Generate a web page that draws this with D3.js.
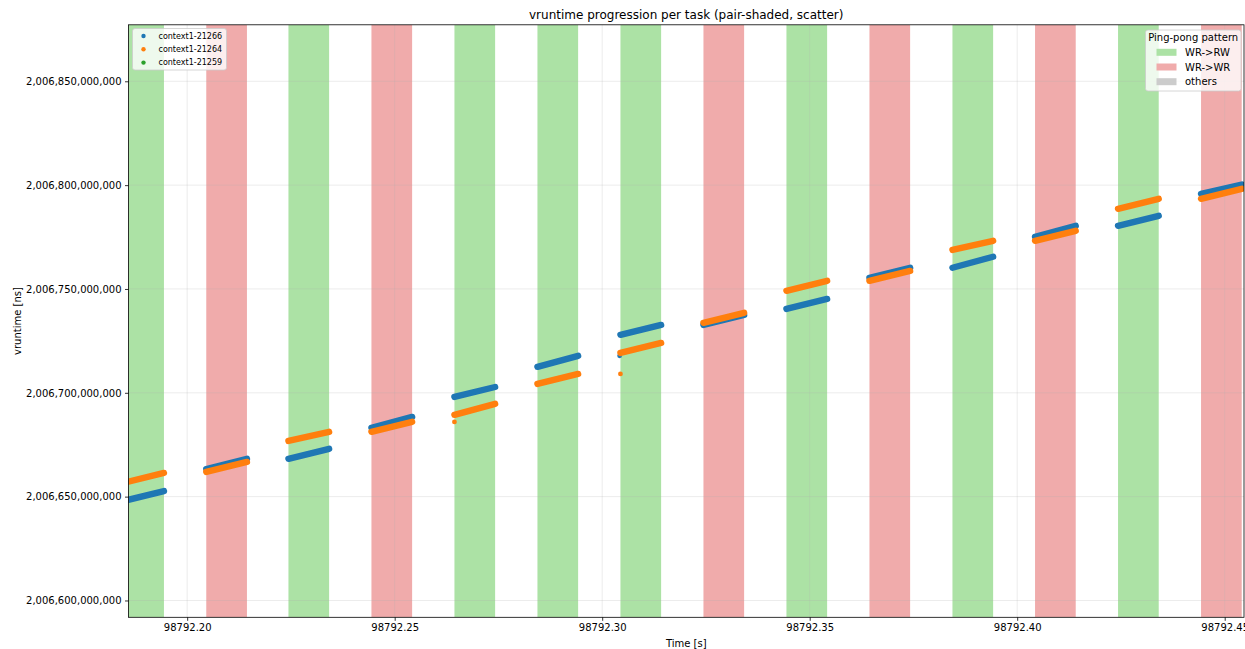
<!DOCTYPE html>
<html>
<head>
<meta charset="utf-8">
<script src="https://cdn.jsdelivr.net/npm/d3@7"></script>
<style>
  html, body { margin: 0; padding: 0; background: #fff; }
  svg { display: block; font-family: "DejaVu Sans", sans-serif; }
</style>
</head>
<body>
<svg id="chart" width="1245" height="649"></svg>
<script>
// Ping-pong windows: start / end time [s] and pattern of each shaded pair window
const bandStart = [98792.1846, 98792.2046, 98792.2244, 98792.2444, 98792.2644, 98792.2844, 98792.3044,
                   98792.3244, 98792.3444, 98792.3644, 98792.3844, 98792.4043, 98792.4243, 98792.4443];
const bandEnd   = [98792.1944, 98792.2144, 98792.2342, 98792.2542, 98792.2742, 98792.2942, 98792.3142,
                   98792.3342, 98792.3542, 98792.3742, 98792.3942, 98792.4141, 98792.4341, 98792.4541];
const bandPattern = ["WR->RW", "WR->WR", "WR->RW", "WR->WR", "WR->RW", "WR->RW", "WR->RW",
                     "WR->WR", "WR->RW", "WR->WR", "WR->RW", "WR->WR", "WR->RW", "WR->WR"];

const patterns = ["WR->RW", "WR->WR", "others"];
const tasks = ["context1-21266", "context1-21264", "context1-21259"];

// vruntime [ns] of each task at the start and end of its run inside each window
const vrStart21266 = [2006647900000, 2006663300000, 2006668200000, 2006683100000, 2006698000000, 2006712500000, 2006727900000,
                      2006732700000, 2006740400000, 2006755300000, 2006760200000, 2006775100000, 2006780400000, 2006795800000];
const vrEnd21266   = [2006652700000, 2006668200000, 2006673000000, 2006688400000, 2006702800000, 2006717800000, 2006732700000,
                      2006737500000, 2006745200000, 2006760200000, 2006765500000, 2006780400000, 2006785200000, 2006800300000];
const vrStart21264 = [2006656600000, 2006661900000, 2006676800000, 2006681200000, 2006689400000, 2006704300000, 2006719200000,
                      2006733700000, 2006749100000, 2006753900000, 2006768800000, 2006773200000, 2006788600000, 2006793400000];
const vrEnd21264   = [2006661400000, 2006666700000, 2006681200000, 2006686000000, 2006694700000, 2006709100000, 2006724000000,
                      2006738500000, 2006753900000, 2006758700000, 2006773200000, 2006778000000, 2006793400000, 2006798200000];
const vrStart21259 = [];
const vrEnd21259   = [];

// single samples taken just before a run starts
const lonePointsTime  = [[98792.3042], [98792.2644, 98792.3044], []];
const lonePointsValue = [[2006717800000], [2006686000000, 2006709100000], []];

const xTicks = [98792.20, 98792.25, 98792.30, 98792.35, 98792.40, 98792.45];
const yTicks = [2006600000000, 2006650000000, 2006700000000, 2006750000000, 2006800000000, 2006850000000];
const xDomain = [98792.18586, 98792.45465];
const yDomain = [2006591900000, 2006877200000];

const taskColors = ["#1f77b4", "#ff7f0e", "#2ca02c"];
const patternColors = {"WR->RW": "#ace2a5", "WR->WR": "#f0abab", "others": "#cccccc"};

const svg = d3.select("#chart");
const margin = {left: 128.5, top: 24.8, right: 1244, bottom: 617.3};
const W = margin.right - margin.left, H = margin.bottom - margin.top;

const x = d3.scaleLinear().domain(xDomain).range([margin.left, margin.right]);
const y = d3.scaleLinear().domain(yDomain).range([margin.bottom, margin.top]);

svg.append("defs").append("clipPath").attr("id", "plot-clip")
  .append("rect").attr("x", margin.left).attr("y", margin.top).attr("width", W).attr("height", H);

const plot = svg.append("g").attr("clip-path", "url(#plot-clip)");

// shaded pair windows
plot.append("g").selectAll("rect").data(bandStart).join("rect")
  .attr("x", (d) => x(d))
  .attr("width", (d, i) => x(bandEnd[i]) - x(d))
  .attr("y", margin.top).attr("height", H)
  .attr("fill", (d, i) => patternColors[bandPattern[i]]);

// grid
const grid = plot.append("g").attr("stroke", "#b0b0b0").attr("stroke-opacity", 0.3).attr("stroke-width", 0.8);
grid.selectAll("line.gx").data(xTicks).join("line").attr("class", "gx")
  .attr("x1", (d) => x(d)).attr("x2", (d) => x(d)).attr("y1", margin.top).attr("y2", margin.bottom);
grid.selectAll("line.gy").data(yTicks).join("line").attr("class", "gy")
  .attr("y1", (d) => y(d)).attr("y2", (d) => y(d)).attr("x1", margin.left).attr("x2", margin.right);

// task runs
const runs = [
  {start: vrStart21266, end: vrEnd21266},
  {start: vrStart21264, end: vrEnd21264},
  {start: vrStart21259, end: vrEnd21259}
];
runs.forEach((r, ti) => {
  const g = plot.append("g").attr("stroke", taskColors[ti]).attr("fill", taskColors[ti]);
  g.selectAll("line").data(r.start).join("line")
    .attr("x1", (d, i) => x(bandStart[i])).attr("x2", (d, i) => x(bandEnd[i]))
    .attr("y1", (d) => y(d)).attr("y2", (d, i) => y(r.end[i]))
    .attr("stroke-width", 6.4).attr("stroke-linecap", "round");
  g.selectAll("circle").data(lonePointsTime[ti]).join("circle")
    .attr("cx", (d) => x(d)).attr("cy", (d, i) => y(lonePointsValue[ti][i]))
    .attr("r", 2.4).attr("stroke", "none");
});

// axes
const xAxis = d3.axisBottom(x).tickValues(xTicks).tickFormat(d3.format(".2f")).tickSize(3.5).tickPadding(3.5);
const yAxis = d3.axisLeft(y).tickValues(yTicks).tickFormat(d3.format(",.0f")).tickSize(3.5).tickPadding(3.5);

const gx = svg.append("g").attr("transform", `translate(0,${margin.bottom})`).call(xAxis);
const gy = svg.append("g").attr("transform", `translate(${margin.left},0)`).call(yAxis);
[gx, gy].forEach((g) => {
  g.select(".domain").remove();
  g.selectAll(".tick line").attr("stroke", "#000").attr("stroke-width", 0.8);
  g.selectAll(".tick text").attr("fill", "#000").attr("font-size", 10).attr("font-family", "DejaVu Sans");
});

// frame
svg.append("rect").attr("x", margin.left).attr("y", margin.top).attr("width", W).attr("height", H)
  .attr("fill", "none").attr("stroke", "#000").attr("stroke-width", 0.8);

// titles
svg.append("text").attr("x", (margin.left + margin.right) / 2).attr("y", 18.5)
  .attr("text-anchor", "middle").attr("font-size", 12).attr("fill", "#000")
  .text("vruntime progression per task (pair-shaded, scatter)");
svg.append("text").attr("x", (margin.left + margin.right) / 2).attr("y", 646.5)
  .attr("text-anchor", "middle").attr("font-size", 10).attr("fill", "#000").text("Time [s]");
svg.append("text").attr("transform", `translate(21,${(margin.top + margin.bottom) / 2}) rotate(-90)`)
  .attr("text-anchor", "middle").attr("font-size", 10).attr("fill", "#000").text("vruntime [ns]");

// task legend
const lg1 = svg.append("g");
lg1.append("rect").attr("x", 132.5).attr("y", 28.5).attr("width", 94).attr("height", 41.5).attr("rx", 2.5)
  .attr("fill", "#fff").attr("fill-opacity", 0.8).attr("stroke", "#cccccc").attr("stroke-width", 0.8);
tasks.forEach((t, i) => {
  const cy = 36 + i * 13.3;
  lg1.append("circle").attr("cx", 143.5).attr("cy", cy).attr("r", 2.2).attr("fill", taskColors[i]);
  lg1.append("text").attr("x", 158.5).attr("y", cy).attr("dy", "0.35em")
    .attr("font-size", 8).attr("fill", "#000").text(t);
});

// pattern legend
const lg2 = svg.append("g");
lg2.append("rect").attr("x", 1145.5).attr("y", 30).attr("width", 95.5).attr("height", 61).attr("rx", 2.5)
  .attr("fill", "#fff").attr("fill-opacity", 0.8).attr("stroke", "#cccccc").attr("stroke-width", 0.8);
lg2.append("text").attr("x", 1193.2).attr("y", 41.3).attr("text-anchor", "middle")
  .attr("font-size", 10).attr("fill", "#000").text("Ping-pong pattern");
patterns.forEach((p, i) => {
  const cy = 52.3 + i * 14.7;
  lg2.append("rect").attr("x", 1156.5).attr("y", cy - 3.5).attr("width", 20).attr("height", 7)
    .attr("fill", patternColors[p]);
  lg2.append("text").attr("x", 1185).attr("y", cy).attr("dy", "0.35em")
    .attr("font-size", 10).attr("fill", "#000").text(p);
});
</script>
</body>
</html>
